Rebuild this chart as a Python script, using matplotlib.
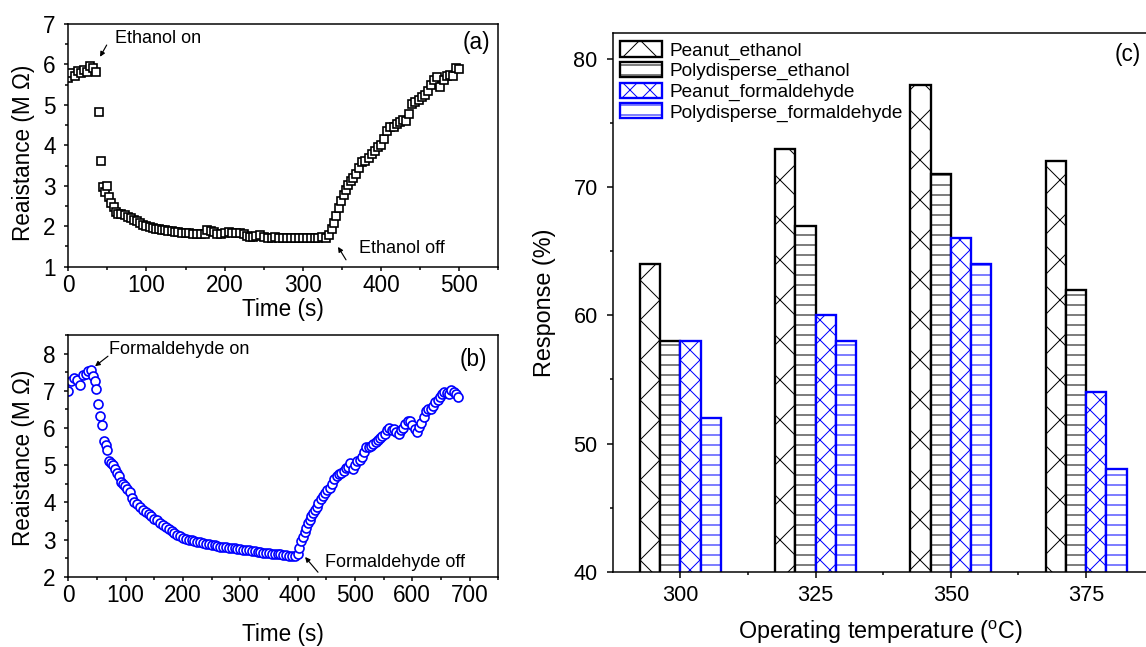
import matplotlib
matplotlib.use('Agg')
import matplotlib.pyplot as plt
from matplotlib.ticker import MultipleLocator
import numpy as np

plt.rcParams['font.family'] = ['Liberation Sans', 'DejaVu Sans']
plt.rcParams['mathtext.fontset'] = 'custom'
plt.rcParams['mathtext.rm'] = 'Liberation Sans'
plt.rcParams['hatch.linewidth'] = 0.6

# ---------------- data ----------------
time_a = [0, 4, 8, 12, 16, 20, 24, 28, 32, 36,
          39, 41.5, 44, 47, 50, 52, 55, 58, 61, 64,
          68, 72, 76, 80, 84, 88, 92, 96, 100, 104,
          108, 112, 116, 120, 124, 128, 132, 136, 140, 145,
          150, 155, 160, 165, 170, 175, 178, 182, 186, 190,
          195, 200, 205, 210, 215, 220, 225, 228, 232, 236,
          240, 245, 250, 255, 260, 265, 270, 275, 280, 285,
          290, 295, 300, 305, 310, 315, 320, 325, 330, 334,
          337, 340, 343, 346, 349, 352, 355, 358, 361, 364,
          368, 372, 376, 380, 384, 388, 392, 396, 400, 404,
          408, 412, 416, 420, 424, 428, 432, 436, 440, 444,
          448, 452, 456, 460, 464, 468, 472, 476, 480, 484,
          488, 492, 496, 500]
res_a = [5.66, 5.80, 5.72, 5.85, 5.78, 5.86, 5.82, 5.95, 5.92, 5.82,
         4.82, 3.62, 2.97, 2.85, 3.00, 2.72, 2.58, 2.48, 2.35, 2.30,
         2.30, 2.28, 2.24, 2.20, 2.16, 2.14, 2.08, 2.03, 2.00, 1.98,
         1.96, 1.94, 1.93, 1.91, 1.90, 1.89, 1.88, 1.86, 1.85, 1.84,
         1.83, 1.83, 1.82, 1.82, 1.80, 1.81, 1.90, 1.89, 1.85, 1.82,
         1.80, 1.83, 1.85, 1.83, 1.84, 1.83, 1.80, 1.75, 1.74, 1.74,
         1.76, 1.78, 1.73, 1.71, 1.70, 1.73, 1.72, 1.72, 1.71, 1.72,
         1.72, 1.71, 1.72, 1.72, 1.72, 1.71, 1.72, 1.73, 1.72, 1.78,
         1.92, 2.08, 2.25, 2.45, 2.62, 2.78, 2.90, 3.02, 3.12, 3.20,
         3.30, 3.45, 3.58, 3.62, 3.68, 3.78, 3.86, 3.95, 4.02, 4.15,
         4.35, 4.45, 4.45, 4.52, 4.58, 4.62, 4.60, 4.78, 5.02, 5.08,
         5.12, 5.20, 5.25, 5.35, 5.50, 5.62, 5.68, 5.45, 5.62, 5.72,
         5.75, 5.72, 5.90, 5.88]

time_b = [0, 5, 10, 15, 20, 25, 30, 35, 40, 43,
          46, 49, 52, 55, 58, 62, 65, 68, 71, 75,
          78, 82, 85, 88, 92, 95, 99, 103, 107, 111,
          115, 120, 125, 130, 135, 140, 145, 150, 155, 160,
          165, 170, 175, 180, 185, 190, 195, 200, 205, 210,
          215, 220, 225, 230, 235, 240, 245, 250, 255, 260,
          265, 270, 275, 280, 285, 290, 295, 300, 305, 310,
          315, 320, 325, 330, 335, 340, 345, 350, 355, 360,
          365, 370, 375, 380, 385, 390, 395, 400, 403, 406,
          409, 412, 415, 418, 421, 424, 427, 430, 433, 436,
          440, 444, 448, 452, 456, 460, 464, 468, 472, 476,
          480, 484, 488, 492, 496, 500, 504, 508, 512, 516,
          520, 524, 528, 532, 536, 540, 544, 548, 552, 556,
          560, 564, 568, 572, 576, 580, 584, 588, 592, 596,
          600, 604, 608, 612, 616, 620, 624, 628, 632, 636,
          640, 644, 648, 652, 656, 660, 664, 668, 672, 676,
          680]
res_b = [7.00, 7.25, 7.35, 7.30, 7.15, 7.42, 7.45, 7.52, 7.55, 7.40,
         7.25, 7.05, 6.65, 6.32, 6.08, 5.65, 5.55, 5.42, 5.10, 5.05,
         5.00, 4.90, 4.78, 4.72, 4.55, 4.50, 4.45, 4.35, 4.28, 4.12,
         4.02, 3.95, 3.88, 3.80, 3.74, 3.68, 3.62, 3.56, 3.52, 3.45,
         3.38, 3.35, 3.28, 3.22, 3.17, 3.12, 3.10, 3.05, 3.02, 3.00,
         2.98, 2.97, 2.94, 2.92, 2.90, 2.88, 2.87, 2.86, 2.84, 2.82,
         2.81, 2.80, 2.79, 2.78, 2.77, 2.76, 2.75, 2.74, 2.73, 2.72,
         2.71, 2.70, 2.69, 2.67, 2.66, 2.65, 2.64, 2.63, 2.62, 2.61,
         2.60, 2.60, 2.59, 2.58, 2.57, 2.56, 2.55, 2.60, 2.78, 2.95,
         3.08, 3.20, 3.32, 3.45, 3.52, 3.62, 3.70, 3.80, 3.88, 3.98,
         4.08, 4.18, 4.25, 4.32, 4.38, 4.50, 4.62, 4.72, 4.75, 4.78,
         4.85, 4.92, 4.95, 5.05, 4.90, 5.00, 5.10, 5.15, 5.22, 5.35,
         5.48, 5.50, 5.52, 5.58, 5.62, 5.68, 5.72, 5.78, 5.85, 5.95,
         6.00, 5.95, 5.98, 5.90, 5.85, 5.95, 6.00, 6.10, 6.18, 6.20,
         6.08, 5.98, 5.90, 6.02, 6.12, 6.30, 6.45, 6.50, 6.52, 6.60,
         6.70, 6.75, 6.82, 6.92, 6.98, 6.95, 6.90, 7.02, 6.98, 6.90,
         6.82]

temps = ['300', '325', '350', '375']
series_names = ['Peanut_ethanol', 'Polydisperse_ethanol',
                'Peanut_formaldehyde', 'Polydisperse_formaldehyde']
peanut_ethanol = [64, 73, 78, 72]
poly_ethanol = [58, 67, 71, 62]
peanut_formaldehyde = [58, 60, 66, 54]
poly_formaldehyde = [52, 58, 64, 48]

# ---------------- figure ----------------
W, H, DPI = 1146, 647, 120
fig = plt.figure(figsize=(W / DPI, H / DPI), dpi=DPI)


def px_axes(left, top, right, bottom):
    return fig.add_axes([left / W, 1 - bottom / H, (right - left) / W, (bottom - top) / H])


def style_small(ax):
    for s in ax.spines.values():
        s.set_linewidth(0.9)
    ax.tick_params(which='both', direction='out', top=False, right=False,
                   labelsize=13.5, width=0.9)
    ax.tick_params(which='major', length=2.6)
    ax.tick_params(which='minor', length=1.6)
    ax.tick_params(axis='x', pad=1.5)
    ax.tick_params(axis='y', pad=5)


arrow_kw = dict(arrowstyle='-|>', color='black', lw=0.7, mutation_scale=6,
                shrinkA=0, shrinkB=0)

# ---- panel (a) ----
ax1 = px_axes(68.3, 24, 498.3, 266.7)
ax1.plot(time_a, res_a, linestyle='none', marker='s', markersize=5.2,
         markerfacecolor='white', markeredgecolor='black', markeredgewidth=1.0)
ax1.set_xlim(0, 550)
ax1.set_ylim(1, 7)
ax1.xaxis.set_major_locator(MultipleLocator(100))
ax1.xaxis.set_minor_locator(MultipleLocator(50))
ax1.yaxis.set_major_locator(MultipleLocator(1))
ax1.yaxis.set_minor_locator(MultipleLocator(0.5))
style_small(ax1)
ax1.set_xlabel('Time (s)', fontsize=13.5)
ax1.xaxis.set_label_coords(0.5, -0.13)
ax1.set_ylabel('Reaistance (M \u03a9)', fontsize=13.5)
ax1.yaxis.set_label_coords(-0.078, 0.47)
ax1.text(0.948, 0.922, '(a)', transform=ax1.transAxes, ha='center', va='center', fontsize=13.5)
ax1.annotate('', xy=(40.6, 6.19), xytext=(49.1, 6.48), arrowprops=arrow_kw)
ax1.text(60, 6.63, 'Ethanol on', ha='left', va='center', fontsize=10.8)
ax1.annotate('', xy=(345, 1.49), xytext=(355.2, 1.17), arrowprops=arrow_kw)
ax1.text(371.8, 1.44, 'Ethanol off', ha='left', va='center', fontsize=10.8)

# ---- panel (b) ----
ax2 = px_axes(68.3, 335, 498.3, 576.7)
ax2.plot(time_b, res_b, linestyle='none', marker='o', markersize=5.4,
         markerfacecolor='white', markeredgecolor='#0000ff', markeredgewidth=1.0)
ax2.set_xlim(0, 750)
ax2.set_ylim(2, 8.5)
ax2.xaxis.set_major_locator(MultipleLocator(100))
ax2.xaxis.set_minor_locator(MultipleLocator(50))
ax2.yaxis.set_major_locator(MultipleLocator(1))
ax2.yaxis.set_minor_locator(MultipleLocator(0.5))
style_small(ax2)
ax2.set_xlabel('Time (s)', fontsize=13.5)
ax2.xaxis.set_label_coords(0.5, -0.19)
ax2.set_ylabel('Reaistance (M \u03a9)', fontsize=13.5)
ax2.yaxis.set_label_coords(-0.078, 0.49)
ax2.text(0.942, 0.90, '(b)', transform=ax2.transAxes, ha='center', va='center', fontsize=13.5)
ax2.annotate('', xy=(46.6, 7.66), xytext=(69.2, 7.93), arrowprops=arrow_kw)
ax2.text(71.5, 8.12, 'Formaldehyde on', ha='left', va='center', fontsize=10.8)
ax2.annotate('', xy=(413, 2.53), xytext=(435.5, 2.12), arrowprops=arrow_kw)
ax2.text(447.8, 2.37, 'Formaldehyde off', ha='left', va='center', fontsize=10.8)

# ---- panel (c) ----
ax3 = px_axes(612.7, 33.3, 1153.7, 571.7)
x = np.arange(len(temps))
bw = 0.15
series_vals = [peanut_ethanol, poly_ethanol, peanut_formaldehyde, poly_formaldehyde]
edgecols = ['black', 'black', '#0000ff', '#0000ff']
hatches = ['x', '--', 'xx', '--']
offsets = [-1.5, -0.5, 0.5, 1.5]
for vals, name, ec, h, off in zip(series_vals, series_names, edgecols, hatches, offsets):
    ax3.bar(x + off * bw, vals, width=bw, facecolor='white', edgecolor=ec,
            hatch=h, linewidth=1.4, label=name)
ax3.set_xlim(-0.5, 3.5)
ax3.set_ylim(40, 82)
ax3.set_xticks(x)
ax3.set_xticklabels(temps)
ax3.set_xticks([0.5, 1.5, 2.5], minor=True)
ax3.yaxis.set_major_locator(MultipleLocator(10))
ax3.yaxis.set_minor_locator(MultipleLocator(5))
for s in ax3.spines.values():
    s.set_linewidth(0.9)
ax3.tick_params(which='both', direction='out', top=False, right=False,
                labelsize=13, width=0.9)
ax3.tick_params(which='major', length=3.6)
ax3.tick_params(which='minor', length=2.0)
ax3.tick_params(axis='x', pad=4.2)
ax3.tick_params(axis='y', pad=5.4)
ax3.set_xlabel('Operating temperature ($^{\\mathrm{o}}$C)', fontsize=14)
ax3.xaxis.set_label_coords(0.494, -0.088)
ax3.set_ylabel('Response (%)', fontsize=14)
ax3.yaxis.set_label_coords(-0.105, 0.5)
ax3.text(0.9525, 0.9597, '(c)', transform=ax3.transAxes, ha='center', va='center', fontsize=13.5)
ax3.legend(loc='upper left', bbox_to_anchor=((620 - 612.7) / 541, 0.985), frameon=False,
           fontsize=11.4, handlelength=2.2, handleheight=0.85, handletextpad=0.38,
           labelspacing=0.12, borderpad=0, borderaxespad=0)

fig.savefig('out.png', dpi=DPI)
